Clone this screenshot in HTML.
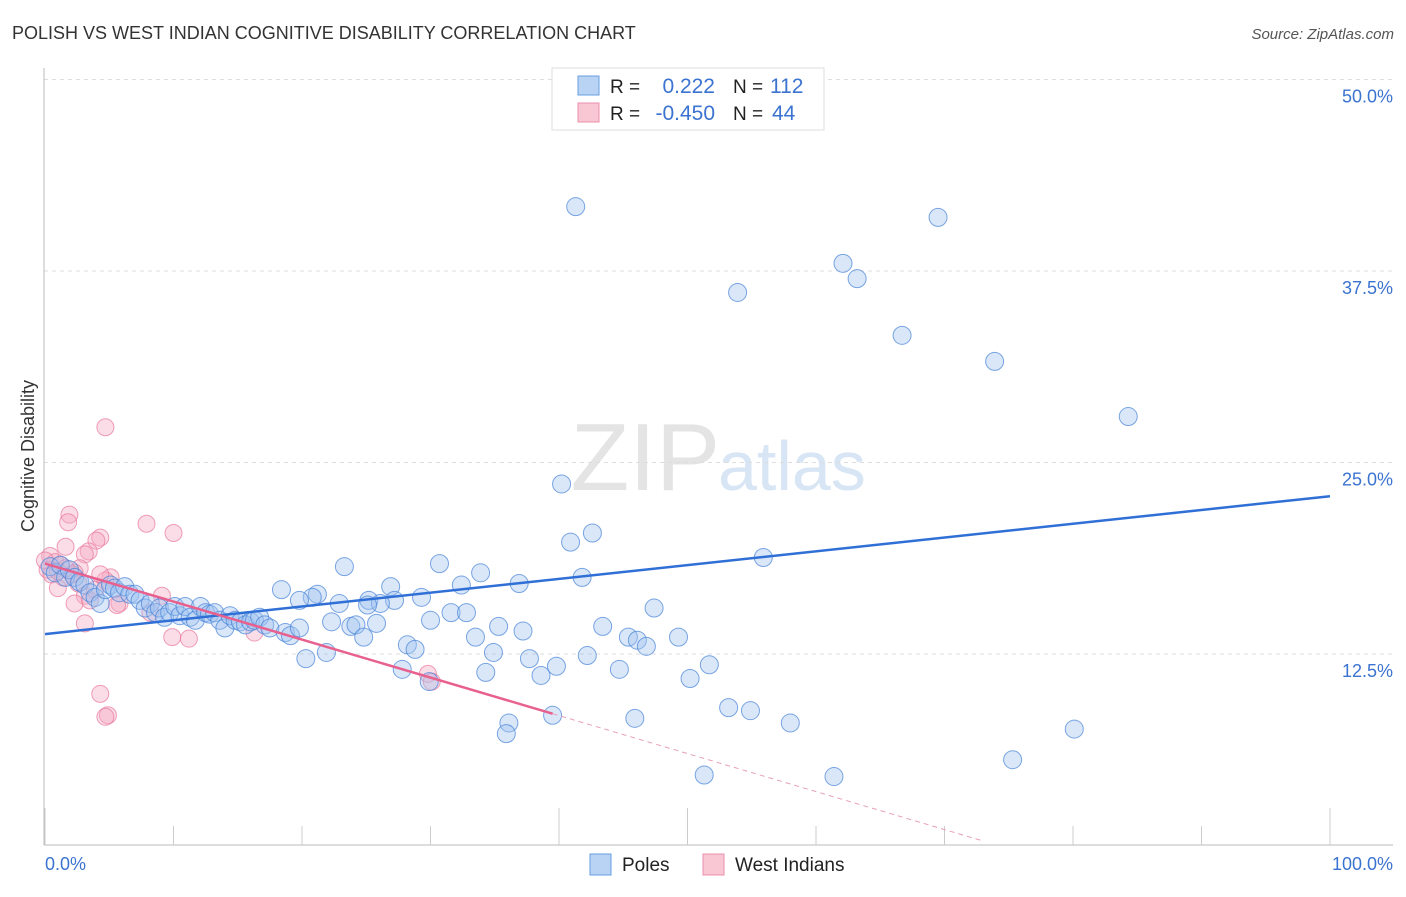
<!DOCTYPE html>
<html><head><meta charset="utf-8"><style>
body{margin:0;background:#fff;font-family:"Liberation Sans",sans-serif}
svg text{font-family:"Liberation Sans",sans-serif}
</style></head><body>
<svg id="chart" width="1406" height="892" viewBox="0 0 1406 892" xmlns="http://www.w3.org/2000/svg">
<text x="12" y="39" font-size="18" fill="#333">POLISH VS WEST INDIAN COGNITIVE DISABILITY CORRELATION CHART</text>
<text x="1394" y="39" font-size="15" fill="#555" font-style="italic" text-anchor="end">Source: ZipAtlas.com</text>
<text x="720" y="490" font-size="96" fill="#e4e4e4" text-anchor="end" font-family="Liberation Serif">ZIP</text>
<text x="718" y="490" font-size="70" fill="#d7e5f5">atlas</text>
<g id="grid"></g>
<line x1="44" y1="68" x2="44" y2="845" stroke="#bbb"/>
<line x1="44" y1="845" x2="1393" y2="845" stroke="#bbb"/>
<g id="ticks"></g>
<text transform="translate(34,456) rotate(-90)" font-size="18" fill="#333" text-anchor="middle">Cognitive Disability</text>
<text x="45" y="870" font-size="18" fill="#3b73d0">0.0%</text>
<text x="1393" y="870" font-size="18" fill="#3b73d0" text-anchor="end">100.0%</text>
<g id="pink"></g>
<g id="blue"></g>
<g id="lines"></g>
<g>
<rect x="552" y="68" width="272" height="62" fill="#fff" stroke="#ddd"/>
<rect x="578" y="76" width="21" height="19" fill="#b8d3f3" stroke="#6a9de0"/>
<rect x="578" y="103" width="21" height="19" fill="#f9c6d4" stroke="#ec8fab"/>
<text x="610" y="93" font-size="19" fill="#222">R =</text>
<text x="715" y="93" font-size="21" fill="#3b73d0" text-anchor="end">0.222</text>
<text x="733" y="93" font-size="19" fill="#222">N =</text>
<text x="770" y="93" font-size="21" fill="#3b73d0">112</text>
<text x="610" y="120" font-size="19" fill="#222">R =</text>
<text x="715" y="120" font-size="21" fill="#3b73d0" text-anchor="end">-0.450</text>
<text x="733" y="120" font-size="19" fill="#222">N =</text>
<text x="772" y="120" font-size="21" fill="#3b73d0">44</text>
</g>
<g>
<rect x="590" y="854" width="21" height="21" fill="#b8d3f3" stroke="#6a9de0"/>
<text x="622" y="871" font-size="19" fill="#222">Poles</text>
<rect x="703" y="854" width="21" height="21" fill="#f9c6d4" stroke="#ec8fab"/>
<text x="735" y="871" font-size="19" fill="#222">West Indians</text>
</g>
</svg>
<script>
const yTicks=[12.5,25,37.5,50];
const yTickLabels=["12.5%","25.0%","37.5%","50.0%"];
const xTicks=[0,10,20,30,40,50,60,70,80,90,100];
const bluePct=[41.3,69.5,62.1,63.2,53.9,66.7,73.9,84.3,40.2,42.6,40.9,55.9,23.3,30.7,33.9,41.8,36.9,32.4,26.9,18.4,21.2,20.8,19.8,29.3,27.2,25.2,22.9,26.1,25.1,47.4,30.0,31.6,32.8,22.3,23.8,24.2,25.8,35.3,37.2,43.4,33.5,45.4,46.1,46.8,49.3,24.8,28.2,28.8,34.9,21.9,20.3,37.7,42.2,27.8,39.8,34.3,44.7,51.7,29.9,38.6,50.2,36.1,35.9,39.5,45.9,53.2,54.9,58.0,80.1,75.3,51.3,61.4,
0.4,0.8,1.2,1.6,1.9,2.3,2.7,3.1,3.5,3.9,4.3,4.7,5.1,5.4,5.8,6.2,6.6,7.0,7.4,7.8,8.2,8.6,8.9,9.3,9.7,10.1,10.5,10.9,11.3,11.7,12.1,12.5,12.8,13.2,13.6,14.0,14.4,14.8,15.2,15.6,16.0,16.3,16.7,17.1,17.5,18.7,19.1,19.8];
const blueVal=[41.7,41.0,38.0,37.0,36.1,33.3,31.6,28.0,23.6,20.4,19.8,18.8,18.2,18.4,17.8,17.5,17.1,17.0,16.9,16.7,16.4,16.2,16.0,16.2,16.0,16.0,15.8,15.8,15.7,15.5,14.7,15.2,15.2,14.6,14.3,14.4,14.5,14.3,14.0,14.3,13.6,13.6,13.4,13.0,13.6,13.6,13.1,12.8,12.6,12.6,12.2,12.2,12.4,11.5,11.7,11.3,11.5,11.8,10.7,11.1,10.9,8.0,7.3,8.5,8.3,9.0,8.8,8.0,7.6,5.6,4.6,4.5,
18.2,17.8,18.3,17.5,18.0,17.5,17.2,17.0,16.5,16.2,15.8,16.7,17.0,16.8,16.5,16.9,16.4,16.4,16.0,15.5,15.8,15.2,15.5,14.9,15.2,15.6,15.0,15.6,14.9,14.7,15.6,15.2,15.1,15.2,14.7,14.2,15.0,14.7,14.6,14.4,14.6,14.7,14.9,14.4,14.2,13.9,13.7,14.2];
const pinkPct=[4.7,1.9,1.8,7.9,10.0,4.3,4.0,1.6,3.4,3.1,0.4,0.8,1.2,0.2,0.5,1.0,1.4,2.7,2.3,5.1,4.7,1.0,2.6,3.1,2.3,3.5,5.8,5.6,9.1,3.1,9.9,11.2,16.3,29.8,30.1,4.3,4.9,4.7,0.0,2.1,3.9,8.2,1.6,4.3];
const pinkVal=[27.3,21.6,21.1,21.0,20.4,20.1,19.9,19.5,19.2,19.0,18.9,18.5,18.3,18.0,17.7,17.9,17.5,18.1,17.8,17.5,17.3,16.8,17.1,16.3,15.8,16.0,15.8,15.7,16.3,14.5,13.6,13.5,13.9,11.2,10.7,9.9,8.5,8.4,18.6,17.7,16.7,15.2,18.1,17.7];
const blueTrend=[13.8,22.8];
const pinkTrend=[18.4,-0.248];
const pinkSolidEnd=39.5, pinkDashEnd=73;

const X=p=>45+12.85*p;
const Y=v=>845.5-15.32*v;
const NS="http://www.w3.org/2000/svg";
function mk(tag,attrs,parent){const e=document.createElementNS(NS,tag);for(const k in attrs)e.setAttribute(k,attrs[k]);parent.appendChild(e);return e;}
const grid=document.getElementById('grid');
yTicks.forEach((t,i)=>{
  const l=mk('line',{x1:44,x2:1393,y1:Y(t),y2:Y(t),stroke:'#ddd','stroke-dasharray':'4,4'},grid);
  
  
  const tx=mk('text',{x:1393,y:Y(t)+23,'font-size':18,fill:'#3b73d0','text-anchor':'end'},grid);
  tx.textContent=yTickLabels[i];
  
  
});
const tk=document.getElementById('ticks');
xTicks.forEach(t=>{
  const l=mk('line',{x1:X(t),x2:X(t),y1:(t%50===0||t===40)?808:826,y2:845,stroke:'#ccc'},tk);
  
  
});
const pg=document.getElementById('pink');
pinkPct.forEach((p,i)=>{
  const c=mk('circle',{cx:X(p),cy:Y(pinkVal[i]),r:8.5,fill:'rgba(246,170,195,0.4)',stroke:'rgba(232,120,155,0.7)','stroke-width':1},pg);
  
  
});
const bg=document.getElementById('blue');
bluePct.forEach((p,i)=>{
  const c=mk('circle',{cx:X(p),cy:Y(blueVal[i]),r:9,fill:'rgba(160,196,240,0.4)',stroke:'rgba(70,130,215,0.7)','stroke-width':1},bg);
  
  
});
const lg=document.getElementById('lines');
const bl=mk('line',{x1:X(0),y1:Y(blueTrend[0]),x2:X(100),y2:Y(blueTrend[1]),stroke:'#2f6fd6','stroke-width':2.5},lg);


const pv=p=>pinkTrend[0]+pinkTrend[1]*p;
const pl=mk('line',{x1:X(0),y1:Y(pv(0)),x2:X(pinkSolidEnd),y2:Y(pv(pinkSolidEnd)),stroke:'#e8608e','stroke-width':2.5},lg);


const pd=mk('line',{x1:X(pinkSolidEnd),y1:Y(pv(pinkSolidEnd)),x2:X(pinkDashEnd),y2:Y(pv(pinkDashEnd)),stroke:'#e8a0b8','stroke-width':1,'stroke-dasharray':'5,4'},lg);


</script>
</body></html>
